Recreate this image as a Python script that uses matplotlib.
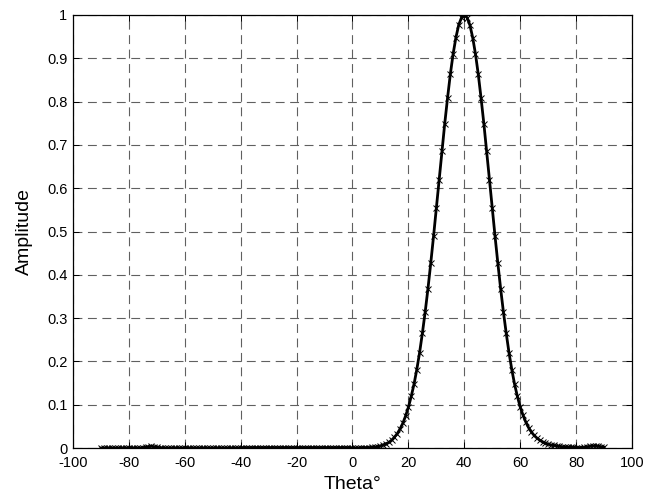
#import necessary libraries
import matplotlib
matplotlib.use('Agg')
import matplotlib.pyplot as plt

plt.rcParams['font.family'] = ['Liberation Sans', 'DejaVu Sans']

#angle in degrees, one sample per degree
theta = list(range(-90, 91))

#amplitude, -90 .. 90
amplitude = [
    0.000, 0.000, 0.000, 0.000, 0.000, 0.000, 0.000, 0.000, 0.000, 0.000,   # -90..-81
    0.000, 0.000, 0.000, 0.000, 0.000, 0.001, 0.002, 0.003, 0.004, 0.003,   # -80..-71
    0.002, 0.001, 0.000, 0.000, 0.000, 0.000, 0.000, 0.000, 0.000, 0.000,   # -70..-61
    0.000, 0.000, 0.000, 0.000, 0.000, 0.000, 0.000, 0.000, 0.000, 0.000,   # -60..-51
    0.000, 0.000, 0.000, 0.000, 0.000, 0.000, 0.000, 0.000, 0.000, 0.000,   # -50..-41
    0.001, 0.001, 0.001, 0.001, 0.001, 0.001, 0.001, 0.001, 0.001, 0.001,   # -40..-31
    0.001, 0.001, 0.001, 0.001, 0.001, 0.001, 0.001, 0.001, 0.001, 0.001,   # -30..-21
    0.001, 0.001, 0.001, 0.001, 0.001, 0.001, 0.001, 0.001, 0.001, 0.001,   # -20..-11
    0.001, 0.001, 0.001, 0.001, 0.001, 0.001, 0.001, 0.001, 0.001, 0.001,   # -10..-1
    0.000, 0.000, 0.000, 0.001, 0.001, 0.001, 0.001, 0.002, 0.002, 0.003,   # 0..9
    0.005, 0.007, 0.010, 0.013, 0.018, 0.025, 0.033, 0.044, 0.057, 0.074,   # 10..19
    0.094, 0.119, 0.147, 0.181, 0.220, 0.265, 0.314, 0.368, 0.427, 0.489,   # 20..29
    0.554, 0.620, 0.685, 0.749, 0.808, 0.863, 0.910, 0.948, 0.977, 0.994,   # 30..39
    1.000, 0.994, 0.977, 0.948, 0.910, 0.863, 0.808, 0.749, 0.685, 0.620,   # 40..49
    0.554, 0.489, 0.427, 0.368, 0.314, 0.265, 0.220, 0.181, 0.147, 0.119,   # 50..59
    0.095, 0.076, 0.060, 0.047, 0.037, 0.029, 0.023, 0.018, 0.014, 0.011,   # 60..69
    0.009, 0.007, 0.006, 0.005, 0.004, 0.003, 0.003, 0.002, 0.002, 0.002,   # 70..79
    0.001, 0.001, 0.001, 0.002, 0.003, 0.004, 0.005, 0.005, 0.004, 0.003,   # 80..89
    0.002,                                                                  # 90
]

xticks = list(range(-100, 101, 20))
yticks = [0, 0.1, 0.2, 0.3, 0.4, 0.5, 0.6, 0.7, 0.8, 0.9, 1]
ytick_labels = ['0', '0.1', '0.2', '0.3', '0.4', '0.5', '0.6', '0.7', '0.8', '0.9', '1']

fig = plt.figure(figsize=(6.5, 5), dpi=100)
ax = fig.add_axes([0.1123, 0.104, 0.86, 0.866])

ax.plot(theta, amplitude, color='k', lw=2.0, marker='x', ms=4.5, mew=0.7, zorder=3)

ax.set_xlim(-100, 100)
ax.set_ylim(0, 1)
ax.set_xticks(xticks)
ax.set_xticklabels([str(t) for t in xticks])
ax.set_yticks(yticks)
ax.set_yticklabels(ytick_labels)
ax.tick_params(direction='in', top=True, right=True, labelsize=10.5, length=4, width=0.7)
ax.tick_params(axis='x', pad=6)
ax.tick_params(axis='y', pad=4)
for s in ax.spines.values():
    s.set_linewidth(0.9)

ax.grid(True, color='#606060', lw=0.8, ls=(0, (8, 5)))
ax.set_axisbelow(True)

ax.set_xlabel('Theta°', fontsize=14, labelpad=4)
ax.set_ylabel('Amplitude', fontsize=14, labelpad=10)

fig.savefig('out.png', dpi=100)
